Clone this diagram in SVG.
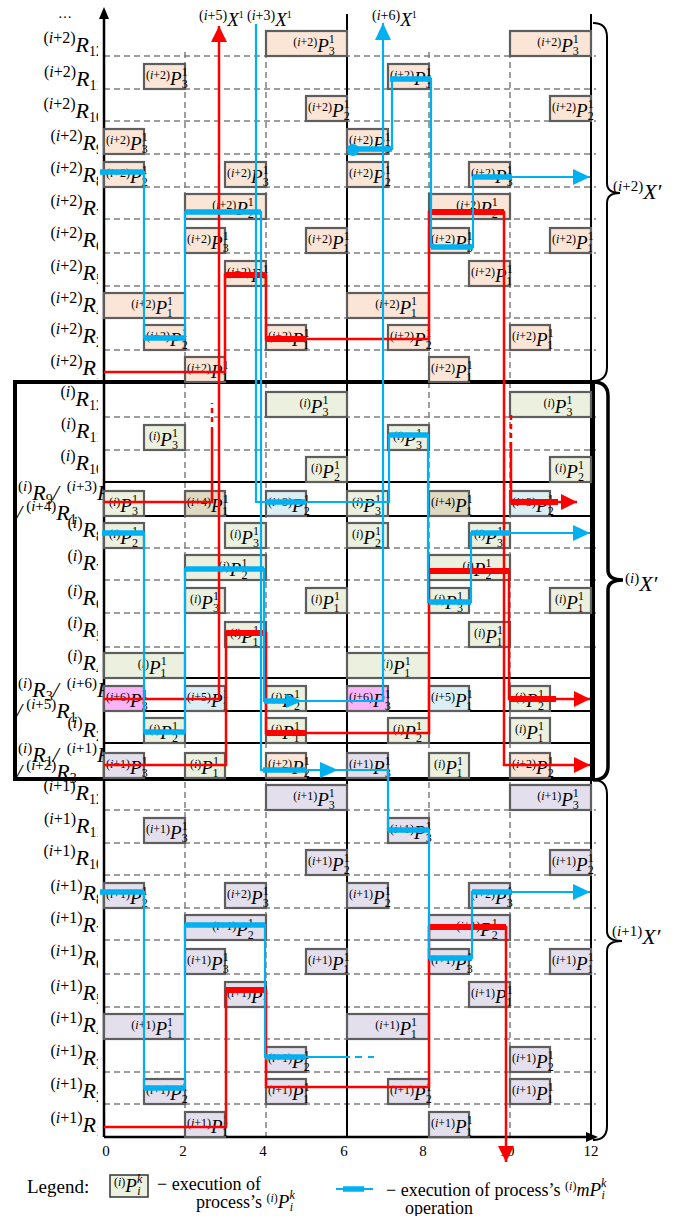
<svg xmlns="http://www.w3.org/2000/svg" width="682" height="1216" viewBox="0 0 682 1216">
<defs>
<style>
.g{stroke:#7f7f7f;stroke-width:1.5;stroke-dasharray:6 4;fill:none}
.b{stroke:#5e5e5e;stroke-width:2.2}
.c2{fill:#fbe5d6}.c0{fill:#ebf1de}.c1{fill:#e4dfec}.c4{fill:#ddd9c3}.cb{fill:#dbeef4}.c6{fill:#f8b6f8}
.t{font-family:"Liberation Serif",serif;fill:#000}
.s{font-size:12px}
.P{font-size:19px;font-style:italic}
.i{font-style:italic}
.m{text-anchor:middle}
.rl{font-family:"Liberation Serif",serif;font-size:16px;text-anchor:end}
.fl{font-family:"Liberation Serif",serif;font-size:15px}
.rR{font-size:22px;font-style:italic}
.rs{font-size:14px}
.rd{stroke:#f00;fill:none;stroke-width:2.5}
.rt{stroke:#f00;stroke-width:6;fill:none}
.bl{stroke:#00b0f0;fill:none;stroke-width:2.2}
.bt{stroke:#00b0f0;stroke-width:5.5;fill:none}
</style>
<marker id="mr" markerUnits="userSpaceOnUse" markerWidth="17" markerHeight="16" refX="16" refY="8" orient="auto"><path d="M0,0 L16,8 L0,16 z" fill="#f00"/></marker>
<marker id="mb" markerUnits="userSpaceOnUse" markerWidth="18" markerHeight="16" refX="17" refY="8" orient="auto"><path d="M0,0 L17,8 L0,16 z" fill="#00b0f0"/></marker>
<clipPath id="lc"><rect x="0" y="0" width="98" height="1216"/></clipPath>
<clipPath id="lc2"><rect x="0" y="0" width="104" height="1216"/></clipPath>
</defs>
<rect width="682" height="1216" fill="#fff"/>

<g id="grid" class="g">
<path d="M104,56H596M104,89H596M104,121H596M104,154H596M104,187H596M104,219H596M104,253H596M104,286H596M104,318H596M104,350H596M104,417H596M104,450H596M104,548H596M104,580H596M104,613H596M104,647H596M104,810H596M104,843H596M104,875H596M104,908H596M104,940H596M104,974H596M104,1007H596M104,1039H596M104,1072H596M104,1104H596"/>
<path d="M185,52V1137M266,52V1137M429,52V1137M510,52V1137"/>
</g>

<g id="frames" fill="none" stroke="#000">
<rect x="104" y="482" width="487" height="34" stroke-width="2"/>
<rect x="104" y="678" width="487" height="33" stroke-width="2"/>
<rect x="104" y="743" width="487" height="36" stroke-width="2"/>
<path d="M347,14V1137M591,14V1137" stroke-width="2"/>
<rect x="15" y="382" width="578" height="397" stroke-width="4"/>
</g>

<g id="axes">
<path d="M104,1137V18" stroke="#000" stroke-width="2.5"/>
<path d="M99,19L104,7L109,19z" fill="#000"/>
<path d="M104,1137H588" stroke="#000" stroke-width="2.5"/>
<path d="M586,1132L598,1137L586,1142z" fill="#000"/>
<g class="t m" font-size="15">
<text x="106" y="1156">0</text><text x="183" y="1156">2</text><text x="263" y="1156">4</text><text x="344" y="1156">6</text><text x="423" y="1156">8</text><text x="507" y="1156">10</text><text x="591" y="1156">12</text>
</g>
<text class="t" x="58" y="18" font-size="14">…</text>
</g>

<g id="nodes">
<!-- (i+2) section -->
<g id="n2-12a"><rect class="b c2" x="266" y="31" width="81" height="25"/><text class="t m" x="314" y="52"><tspan class="s" dy="-6">(<tspan class="i">i</tspan>+2)</tspan><tspan class="P" dy="6">P</tspan><tspan class="s" dy="-9">1</tspan><tspan class="s" dx="-6" dy="12">3</tspan></text></g>
<g id="n2-12b"><rect class="b c2" x="510" y="31" width="81" height="25"/><text class="t m" x="558" y="52"><tspan class="s" dy="-6">(<tspan class="i">i</tspan>+2)</tspan><tspan class="P" dy="6">P</tspan><tspan class="s" dy="-9">1</tspan><tspan class="s" dx="-6" dy="12">3</tspan></text></g>
<g id="n2-11a"><rect class="b c2" x="144" y="64" width="41" height="25"/><text class="t" x="146" y="85"><tspan class="s" dy="-6">(<tspan class="i">i</tspan>+2)</tspan><tspan class="P" dy="6">P</tspan><tspan class="s" dy="-9">1</tspan><tspan class="s" dx="-6" dy="12">3</tspan></text></g>
<g id="n2-11b"><rect class="b c2" x="388" y="64" width="41" height="25"/><text class="t" x="390" y="85"><tspan class="s" dy="-6">(<tspan class="i">i</tspan>+2)</tspan><tspan class="P" dy="6">P</tspan><tspan class="s" dy="-9">1</tspan><tspan class="s" dx="-6" dy="12">3</tspan></text></g>
<g id="n2-10a"><rect class="b c2" x="306" y="96" width="41" height="25"/><text class="t" x="308" y="117"><tspan class="s" dy="-6">(<tspan class="i">i</tspan>+2)</tspan><tspan class="P" dy="6">P</tspan><tspan class="s" dy="-9">1</tspan><tspan class="s" dx="-6" dy="12">2</tspan></text></g>
<g id="n2-10b"><rect class="b c2" x="550" y="96" width="41" height="25"/><text class="t" x="552" y="117"><tspan class="s" dy="-6">(<tspan class="i">i</tspan>+2)</tspan><tspan class="P" dy="6">P</tspan><tspan class="s" dy="-9">1</tspan><tspan class="s" dx="-6" dy="12">2</tspan></text></g>
<g id="n2-9a"><rect class="b c2" x="104" y="129" width="40" height="25"/><text class="t" x="106" y="150"><tspan class="s" dy="-6">(<tspan class="i">i</tspan>+2)</tspan><tspan class="P" dy="6">P</tspan><tspan class="s" dy="-9">1</tspan><tspan class="s" dx="-6" dy="12">3</tspan></text></g>
<g id="n2-9b"><rect class="b c2" x="347" y="129" width="41" height="25"/><text class="t" x="349" y="150"><tspan class="s" dy="-6">(<tspan class="i">i</tspan>+2)</tspan><tspan class="P" dy="6">P</tspan><tspan class="s" dy="-9">1</tspan><tspan class="s" dx="-6" dy="12">3</tspan></text></g>
<g id="n2-8a"><rect class="b c2" x="104" y="162" width="40" height="25"/><text class="t" x="106" y="183"><tspan class="s" dy="-6">(<tspan class="i">i</tspan>+2)</tspan><tspan class="P" dy="6">P</tspan><tspan class="s" dy="-9">1</tspan><tspan class="s" dx="-6" dy="12">2</tspan></text></g>
<g id="n2-8b"><rect class="b c2" x="225" y="162" width="41" height="25"/><text class="t" x="227" y="183"><tspan class="s" dy="-6">(<tspan class="i">i</tspan>+2)</tspan><tspan class="P" dy="6">P</tspan><tspan class="s" dy="-9">1</tspan><tspan class="s" dx="-6" dy="12">3</tspan></text></g>
<g id="n2-8c"><rect class="b c2" x="347" y="162" width="41" height="25"/><text class="t" x="349" y="183"><tspan class="s" dy="-6">(<tspan class="i">i</tspan>+2)</tspan><tspan class="P" dy="6">P</tspan><tspan class="s" dy="-9">1</tspan><tspan class="s" dx="-6" dy="12">2</tspan></text></g>
<g id="n2-8d"><rect class="b c2" x="469" y="162" width="41" height="25"/><text class="t" x="471" y="183"><tspan class="s" dy="-6">(<tspan class="i">i</tspan>+2)</tspan><tspan class="P" dy="6">P</tspan><tspan class="s" dy="-9">1</tspan><tspan class="s" dx="-6" dy="12">3</tspan></text></g>
<g id="n2-7a"><rect class="b c2" x="185" y="194" width="81" height="25"/><text class="t m" x="233" y="215"><tspan class="s" dy="-6">(<tspan class="i">i</tspan>+2)</tspan><tspan class="P" dy="6">P</tspan><tspan class="s" dy="-9">1</tspan><tspan class="s" dx="-6" dy="12">2</tspan></text></g>
<g id="n2-7b"><rect class="b c2" x="429" y="194" width="81" height="25"/><text class="t m" x="477" y="215"><tspan class="s" dy="-6">(<tspan class="i">i</tspan>+2)</tspan><tspan class="P" dy="6">P</tspan><tspan class="s" dy="-9">1</tspan><tspan class="s" dx="-6" dy="12">2</tspan></text></g>
<g id="n2-6a"><rect class="b c2" x="185" y="228" width="40" height="25"/><text class="t" x="187" y="249"><tspan class="s" dy="-6">(<tspan class="i">i</tspan>+2)</tspan><tspan class="P" dy="6">P</tspan><tspan class="s" dy="-9">1</tspan><tspan class="s" dx="-6" dy="12">3</tspan></text></g>
<g id="n2-6b"><rect class="b c2" x="306" y="228" width="41" height="25"/><text class="t" x="308" y="249"><tspan class="s" dy="-6">(<tspan class="i">i</tspan>+2)</tspan><tspan class="P" dy="6">P</tspan><tspan class="s" dy="-9">1</tspan><tspan class="s" dx="-6" dy="12">1</tspan></text></g>
<g id="n2-6c"><rect class="b c2" x="429" y="228" width="40" height="25"/><text class="t" x="431" y="249"><tspan class="s" dy="-6">(<tspan class="i">i</tspan>+2)</tspan><tspan class="P" dy="6">P</tspan><tspan class="s" dy="-9">1</tspan><tspan class="s" dx="-6" dy="12">3</tspan></text></g>
<g id="n2-6d"><rect class="b c2" x="550" y="228" width="41" height="25"/><text class="t" x="552" y="249"><tspan class="s" dy="-6">(<tspan class="i">i</tspan>+2)</tspan><tspan class="P" dy="6">P</tspan><tspan class="s" dy="-9">1</tspan><tspan class="s" dx="-6" dy="12">1</tspan></text></g>
<g id="n2-5a"><rect class="b c2" x="225" y="261" width="41" height="25"/><text class="t" x="227" y="282"><tspan class="s" dy="-6">(<tspan class="i">i</tspan>+2)</tspan><tspan class="P" dy="6">P</tspan><tspan class="s" dy="-9">1</tspan><tspan class="s" dx="-6" dy="12">1</tspan></text></g>
<g id="n2-5b"><rect class="b c2" x="469" y="261" width="41" height="25"/><text class="t" x="471" y="282"><tspan class="s" dy="-6">(<tspan class="i">i</tspan>+2)</tspan><tspan class="P" dy="6">P</tspan><tspan class="s" dy="-9">1</tspan><tspan class="s" dx="-6" dy="12">1</tspan></text></g>
<g id="n2-4a"><rect class="b c2" x="104" y="293" width="81" height="25"/><text class="t m" x="152" y="314"><tspan class="s" dy="-6">(<tspan class="i">i</tspan>+2)</tspan><tspan class="P" dy="6">P</tspan><tspan class="s" dy="-9">1</tspan><tspan class="s" dx="-6" dy="12">1</tspan></text></g>
<g id="n2-4b"><rect class="b c2" x="347" y="293" width="82" height="25"/><text class="t m" x="396" y="314"><tspan class="s" dy="-6">(<tspan class="i">i</tspan>+2)</tspan><tspan class="P" dy="6">P</tspan><tspan class="s" dy="-9">1</tspan><tspan class="s" dx="-6" dy="12">1</tspan></text></g>
<g id="n2-2a"><rect class="b c2" x="144" y="325" width="41" height="25"/><text class="t" x="146" y="346"><tspan class="s" dy="-6">(<tspan class="i">i</tspan>+2)</tspan><tspan class="P" dy="6">P</tspan><tspan class="s" dy="-9">1</tspan><tspan class="s" dx="-6" dy="12">2</tspan></text></g>
<g id="n2-2b"><rect class="b c2" x="266" y="325" width="40" height="25"/><text class="t" x="268" y="346"><tspan class="s" dy="-6">(<tspan class="i">i</tspan>+2)</tspan><tspan class="P" dy="6">P</tspan><tspan class="s" dy="-9">1</tspan><tspan class="s" dx="-6" dy="12">1</tspan></text></g>
<g id="n2-2c"><rect class="b c2" x="388" y="325" width="41" height="25"/><text class="t" x="390" y="346"><tspan class="s" dy="-6">(<tspan class="i">i</tspan>+2)</tspan><tspan class="P" dy="6">P</tspan><tspan class="s" dy="-9">1</tspan><tspan class="s" dx="-6" dy="12">2</tspan></text></g>
<g id="n2-2d"><rect class="b c2" x="510" y="325" width="40" height="25"/><text class="t" x="512" y="346"><tspan class="s" dy="-6">(<tspan class="i">i</tspan>+2)</tspan><tspan class="P" dy="6">P</tspan><tspan class="s" dy="-9">1</tspan><tspan class="s" dx="-6" dy="12">1</tspan></text></g>
<g id="n2-1a"><rect class="b c2" x="185" y="357" width="40" height="25"/><text class="t" x="187" y="378"><tspan class="s" dy="-6">(<tspan class="i">i</tspan>+2)</tspan><tspan class="P" dy="6">P</tspan><tspan class="s" dy="-9">1</tspan><tspan class="s" dx="-6" dy="12">1</tspan></text></g>
<g id="n2-1b"><rect class="b c2" x="429" y="357" width="40" height="25"/><text class="t" x="431" y="378"><tspan class="s" dy="-6">(<tspan class="i">i</tspan>+2)</tspan><tspan class="P" dy="6">P</tspan><tspan class="s" dy="-9">1</tspan><tspan class="s" dx="-6" dy="12">1</tspan></text></g>

<!-- (i) section -->
<g id="n0-12a"><rect class="b c0" x="266" y="392" width="81" height="25"/><text class="t m" x="314" y="413"><tspan class="s" dy="-6">(<tspan class="i">i</tspan>)</tspan><tspan class="P" dy="6">P</tspan><tspan class="s" dy="-9">1</tspan><tspan class="s" dx="-6" dy="12">3</tspan></text></g>
<g id="n0-12b"><rect class="b c0" x="510" y="392" width="81" height="25"/><text class="t m" x="558" y="413"><tspan class="s" dy="-6">(<tspan class="i">i</tspan>)</tspan><tspan class="P" dy="6">P</tspan><tspan class="s" dy="-9">1</tspan><tspan class="s" dx="-6" dy="12">3</tspan></text></g>
<g id="n0-11a"><rect class="b c0" x="144" y="425" width="41" height="25"/><text class="t" x="149" y="446"><tspan class="s" dy="-6">(<tspan class="i">i</tspan>)</tspan><tspan class="P" dy="6">P</tspan><tspan class="s" dy="-9">1</tspan><tspan class="s" dx="-6" dy="12">3</tspan></text></g>
<g id="n0-11b"><rect class="b c0" x="388" y="425" width="41" height="25"/><text class="t" x="393" y="446"><tspan class="s" dy="-6">(<tspan class="i">i</tspan>)</tspan><tspan class="P" dy="6">P</tspan><tspan class="s" dy="-9">1</tspan><tspan class="s" dx="-6" dy="12">3</tspan></text></g>
<g id="n0-10a"><rect class="b c0" x="306" y="457" width="41" height="25"/><text class="t" x="311" y="478"><tspan class="s" dy="-6">(<tspan class="i">i</tspan>)</tspan><tspan class="P" dy="6">P</tspan><tspan class="s" dy="-9">1</tspan><tspan class="s" dx="-6" dy="12">2</tspan></text></g>
<g id="n0-10b"><rect class="b c0" x="550" y="457" width="41" height="25"/><text class="t" x="555" y="478"><tspan class="s" dy="-6">(<tspan class="i">i</tspan>)</tspan><tspan class="P" dy="6">P</tspan><tspan class="s" dy="-9">1</tspan><tspan class="s" dx="-6" dy="12">2</tspan></text></g>
<g id="n0-9a"><rect class="b c0" x="104" y="491" width="40" height="25"/><text class="t" x="109" y="512"><tspan class="s" dy="-6">(<tspan class="i">i</tspan>)</tspan><tspan class="P" dy="6">P</tspan><tspan class="s" dy="-9">1</tspan><tspan class="s" dx="-6" dy="12">3</tspan></text></g>
<g id="n0-9b"><rect class="b c4" x="185" y="491" width="40" height="25"/><text class="t" x="187" y="512"><tspan class="s" dy="-6">(<tspan class="i">i</tspan>+4)</tspan><tspan class="P" dy="6">P</tspan><tspan class="s" dy="-9">1</tspan><tspan class="s" dx="-6" dy="12">1</tspan></text></g>
<g id="n0-9c"><rect class="b cb" x="266" y="491" width="40" height="25"/><text class="t" x="268" y="512"><tspan class="s" dy="-6">(<tspan class="i">i</tspan>+3)</tspan><tspan class="P" dy="6">P</tspan><tspan class="s" dy="-9">1</tspan><tspan class="s" dx="-6" dy="12">2</tspan></text></g>
<g id="n0-9d"><rect class="b c0" x="347" y="491" width="41" height="25"/><text class="t" x="352" y="512"><tspan class="s" dy="-6">(<tspan class="i">i</tspan>)</tspan><tspan class="P" dy="6">P</tspan><tspan class="s" dy="-9">1</tspan><tspan class="s" dx="-6" dy="12">3</tspan></text></g>
<g id="n0-9e"><rect class="b c4" x="429" y="491" width="40" height="25"/><text class="t" x="431" y="512"><tspan class="s" dy="-6">(<tspan class="i">i</tspan>+4)</tspan><tspan class="P" dy="6">P</tspan><tspan class="s" dy="-9">1</tspan><tspan class="s" dx="-6" dy="12">1</tspan></text></g>
<g id="n0-9f"><rect class="b cb" x="510" y="491" width="40" height="25"/><text class="t" x="512" y="512"><tspan class="s" dy="-6">(<tspan class="i">i</tspan>+3)</tspan><tspan class="P" dy="6">P</tspan><tspan class="s" dy="-9">1</tspan><tspan class="s" dx="-6" dy="12">2</tspan></text></g>
<g id="n0-8a"><rect class="b c0" x="104" y="523" width="40" height="25"/><text class="t" x="109" y="544"><tspan class="s" dy="-6">(<tspan class="i">i</tspan>)</tspan><tspan class="P" dy="6">P</tspan><tspan class="s" dy="-9">1</tspan><tspan class="s" dx="-6" dy="12">2</tspan></text></g>
<g id="n0-8b"><rect class="b c0" x="225" y="523" width="41" height="25"/><text class="t" x="230" y="544"><tspan class="s" dy="-6">(<tspan class="i">i</tspan>)</tspan><tspan class="P" dy="6">P</tspan><tspan class="s" dy="-9">1</tspan><tspan class="s" dx="-6" dy="12">3</tspan></text></g>
<g id="n0-8c"><rect class="b c0" x="347" y="523" width="41" height="25"/><text class="t" x="352" y="544"><tspan class="s" dy="-6">(<tspan class="i">i</tspan>)</tspan><tspan class="P" dy="6">P</tspan><tspan class="s" dy="-9">1</tspan><tspan class="s" dx="-6" dy="12">2</tspan></text></g>
<g id="n0-8d"><rect class="b c0" x="469" y="523" width="41" height="25"/><text class="t" x="474" y="544"><tspan class="s" dy="-6">(<tspan class="i">i</tspan>)</tspan><tspan class="P" dy="6">P</tspan><tspan class="s" dy="-9">1</tspan><tspan class="s" dx="-6" dy="12">3</tspan></text></g>
<g id="n0-7a"><rect class="b c0" x="185" y="555" width="81" height="25"/><text class="t m" x="233" y="576"><tspan class="s" dy="-6">(<tspan class="i">i</tspan>)</tspan><tspan class="P" dy="6">P</tspan><tspan class="s" dy="-9">1</tspan><tspan class="s" dx="-6" dy="12">2</tspan></text></g>
<g id="n0-7b"><rect class="b c0" x="429" y="555" width="81" height="25"/><text class="t m" x="477" y="576"><tspan class="s" dy="-6">(<tspan class="i">i</tspan>)</tspan><tspan class="P" dy="6">P</tspan><tspan class="s" dy="-9">1</tspan><tspan class="s" dx="-6" dy="12">2</tspan></text></g>
<g id="n0-6a"><rect class="b c0" x="185" y="588" width="40" height="25"/><text class="t" x="190" y="609"><tspan class="s" dy="-6">(<tspan class="i">i</tspan>)</tspan><tspan class="P" dy="6">P</tspan><tspan class="s" dy="-9">1</tspan><tspan class="s" dx="-6" dy="12">3</tspan></text></g>
<g id="n0-6b"><rect class="b c0" x="306" y="588" width="41" height="25"/><text class="t" x="311" y="609"><tspan class="s" dy="-6">(<tspan class="i">i</tspan>)</tspan><tspan class="P" dy="6">P</tspan><tspan class="s" dy="-9">1</tspan><tspan class="s" dx="-6" dy="12">1</tspan></text></g>
<g id="n0-6c"><rect class="b c0" x="429" y="588" width="40" height="25"/><text class="t" x="434" y="609"><tspan class="s" dy="-6">(<tspan class="i">i</tspan>)</tspan><tspan class="P" dy="6">P</tspan><tspan class="s" dy="-9">1</tspan><tspan class="s" dx="-6" dy="12">3</tspan></text></g>
<g id="n0-6d"><rect class="b c0" x="550" y="588" width="41" height="25"/><text class="t" x="555" y="609"><tspan class="s" dy="-6">(<tspan class="i">i</tspan>)</tspan><tspan class="P" dy="6">P</tspan><tspan class="s" dy="-9">1</tspan><tspan class="s" dx="-6" dy="12">1</tspan></text></g>
<g id="n0-5a"><rect class="b c0" x="225" y="622" width="41" height="25"/><text class="t" x="230" y="643"><tspan class="s" dy="-6">(<tspan class="i">i</tspan>)</tspan><tspan class="P" dy="6">P</tspan><tspan class="s" dy="-9">1</tspan><tspan class="s" dx="-6" dy="12">1</tspan></text></g>
<g id="n0-5b"><rect class="b c0" x="469" y="622" width="41" height="25"/><text class="t" x="474" y="643"><tspan class="s" dy="-6">(<tspan class="i">i</tspan>)</tspan><tspan class="P" dy="6">P</tspan><tspan class="s" dy="-9">1</tspan><tspan class="s" dx="-6" dy="12">1</tspan></text></g>
<g id="n0-4a"><rect class="b c0" x="104" y="653" width="81" height="25"/><text class="t m" x="152" y="674"><tspan class="s" dy="-6">(<tspan class="i">i</tspan>)</tspan><tspan class="P" dy="6">P</tspan><tspan class="s" dy="-9">1</tspan><tspan class="s" dx="-6" dy="12">1</tspan></text></g>
<g id="n0-4b"><rect class="b c0" x="347" y="653" width="82" height="25"/><text class="t m" x="396" y="674"><tspan class="s" dy="-6">(<tspan class="i">i</tspan>)</tspan><tspan class="P" dy="6">P</tspan><tspan class="s" dy="-9">1</tspan><tspan class="s" dx="-6" dy="12">1</tspan></text></g>
<g id="n0-3a"><rect class="b c6" x="104" y="686" width="40" height="25"/><text class="t" x="106" y="707"><tspan class="s" dy="-6">(<tspan class="i">i</tspan>+6)</tspan><tspan class="P" dy="6">P</tspan><tspan class="s" dy="-9">1</tspan><tspan class="s" dx="-6" dy="12">3</tspan></text></g>
<g id="n0-3b"><rect class="b cb" x="185" y="686" width="40" height="25"/><text class="t" x="187" y="707"><tspan class="s" dy="-6">(<tspan class="i">i</tspan>+5)</tspan><tspan class="P" dy="6">P</tspan><tspan class="s" dy="-9">1</tspan><tspan class="s" dx="-6" dy="12">1</tspan></text></g>
<g id="n0-3c"><rect class="b c0" x="266" y="686" width="40" height="25"/><text class="t" x="271" y="707"><tspan class="s" dy="-6">(<tspan class="i">i</tspan>)</tspan><tspan class="P" dy="6">P</tspan><tspan class="s" dy="-9">1</tspan><tspan class="s" dx="-6" dy="12">2</tspan></text></g>
<g id="n0-3d"><rect class="b c6" x="347" y="686" width="41" height="25"/><text class="t" x="349" y="707"><tspan class="s" dy="-6">(<tspan class="i">i</tspan>+6)</tspan><tspan class="P" dy="6">P</tspan><tspan class="s" dy="-9">1</tspan><tspan class="s" dx="-6" dy="12">3</tspan></text></g>
<g id="n0-3e"><rect class="b cb" x="429" y="686" width="40" height="25"/><text class="t" x="431" y="707"><tspan class="s" dy="-6">(<tspan class="i">i</tspan>+5)</tspan><tspan class="P" dy="6">P</tspan><tspan class="s" dy="-9">1</tspan><tspan class="s" dx="-6" dy="12">1</tspan></text></g>
<g id="n0-3f"><rect class="b c0" x="510" y="686" width="40" height="25"/><text class="t" x="515" y="707"><tspan class="s" dy="-6">(<tspan class="i">i</tspan>)</tspan><tspan class="P" dy="6">P</tspan><tspan class="s" dy="-9">1</tspan><tspan class="s" dx="-6" dy="12">2</tspan></text></g>
<g id="n0-2a"><rect class="b c0" x="144" y="718" width="41" height="25"/><text class="t" x="149" y="739"><tspan class="s" dy="-6">(<tspan class="i">i</tspan>)</tspan><tspan class="P" dy="6">P</tspan><tspan class="s" dy="-9">1</tspan><tspan class="s" dx="-6" dy="12">2</tspan></text></g>
<g id="n0-2b"><rect class="b c0" x="266" y="718" width="40" height="25"/><text class="t" x="271" y="739"><tspan class="s" dy="-6">(<tspan class="i">i</tspan>)</tspan><tspan class="P" dy="6">P</tspan><tspan class="s" dy="-9">1</tspan><tspan class="s" dx="-6" dy="12">1</tspan></text></g>
<g id="n0-2c"><rect class="b c0" x="388" y="718" width="41" height="25"/><text class="t" x="393" y="739"><tspan class="s" dy="-6">(<tspan class="i">i</tspan>)</tspan><tspan class="P" dy="6">P</tspan><tspan class="s" dy="-9">1</tspan><tspan class="s" dx="-6" dy="12">2</tspan></text></g>
<g id="n0-2d"><rect class="b c0" x="510" y="718" width="40" height="25"/><text class="t" x="515" y="739"><tspan class="s" dy="-6">(<tspan class="i">i</tspan>)</tspan><tspan class="P" dy="6">P</tspan><tspan class="s" dy="-9">1</tspan><tspan class="s" dx="-6" dy="12">1</tspan></text></g>
<g id="n0-1a"><rect class="b c1" x="104" y="753" width="40" height="25"/><text class="t" x="106" y="774"><tspan class="s" dy="-6">(<tspan class="i">i</tspan>+1)</tspan><tspan class="P" dy="6">P</tspan><tspan class="s" dy="-9">1</tspan><tspan class="s" dx="-6" dy="12">3</tspan></text></g>
<g id="n0-1b"><rect class="b c0" x="185" y="753" width="40" height="25"/><text class="t" x="190" y="774"><tspan class="s" dy="-6">(<tspan class="i">i</tspan>)</tspan><tspan class="P" dy="6">P</tspan><tspan class="s" dy="-9">1</tspan><tspan class="s" dx="-6" dy="12">1</tspan></text></g>
<g id="n0-1c"><rect class="b c2" x="266" y="753" width="40" height="25"/><text class="t" x="268" y="774"><tspan class="s" dy="-6">(<tspan class="i">i</tspan>+2)</tspan><tspan class="P" dy="6">P</tspan><tspan class="s" dy="-9">1</tspan><tspan class="s" dx="-6" dy="12">2</tspan></text></g>
<g id="n0-1d"><rect class="b c1" x="347" y="753" width="41" height="25"/><text class="t" x="349" y="774"><tspan class="s" dy="-6">(<tspan class="i">i</tspan>+1)</tspan><tspan class="P" dy="6">P</tspan><tspan class="s" dy="-9">1</tspan><tspan class="s" dx="-6" dy="12">3</tspan></text></g>
<g id="n0-1e"><rect class="b c0" x="429" y="753" width="40" height="25"/><text class="t" x="434" y="774"><tspan class="s" dy="-6">(<tspan class="i">i</tspan>)</tspan><tspan class="P" dy="6">P</tspan><tspan class="s" dy="-9">1</tspan><tspan class="s" dx="-6" dy="12">1</tspan></text></g>
<g id="n0-1f"><rect class="b c2" x="510" y="753" width="40" height="25"/><text class="t" x="512" y="774"><tspan class="s" dy="-6">(<tspan class="i">i</tspan>+2)</tspan><tspan class="P" dy="6">P</tspan><tspan class="s" dy="-9">1</tspan><tspan class="s" dx="-6" dy="12">2</tspan></text></g>

<!-- (i+1) section -->
<g id="n1-12a"><rect class="b c1" x="266" y="785" width="81" height="25"/><text class="t m" x="314" y="806"><tspan class="s" dy="-6">(<tspan class="i">i</tspan>+1)</tspan><tspan class="P" dy="6">P</tspan><tspan class="s" dy="-9">1</tspan><tspan class="s" dx="-6" dy="12">3</tspan></text></g>
<g id="n1-12b"><rect class="b c1" x="510" y="785" width="81" height="25"/><text class="t m" x="558" y="806"><tspan class="s" dy="-6">(<tspan class="i">i</tspan>+1)</tspan><tspan class="P" dy="6">P</tspan><tspan class="s" dy="-9">1</tspan><tspan class="s" dx="-6" dy="12">3</tspan></text></g>
<g id="n1-11a"><rect class="b c1" x="144" y="818" width="41" height="25"/><text class="t" x="146" y="839"><tspan class="s" dy="-6">(<tspan class="i">i</tspan>+1)</tspan><tspan class="P" dy="6">P</tspan><tspan class="s" dy="-9">1</tspan><tspan class="s" dx="-6" dy="12">3</tspan></text></g>
<g id="n1-11b"><rect class="b c1" x="388" y="818" width="41" height="25"/><text class="t" x="390" y="839"><tspan class="s" dy="-6">(<tspan class="i">i</tspan>+1)</tspan><tspan class="P" dy="6">P</tspan><tspan class="s" dy="-9">1</tspan><tspan class="s" dx="-6" dy="12">3</tspan></text></g>
<g id="n1-10a"><rect class="b c1" x="306" y="850" width="41" height="25"/><text class="t" x="308" y="871"><tspan class="s" dy="-6">(<tspan class="i">i</tspan>+1)</tspan><tspan class="P" dy="6">P</tspan><tspan class="s" dy="-9">1</tspan><tspan class="s" dx="-6" dy="12">2</tspan></text></g>
<g id="n1-10b"><rect class="b c1" x="550" y="850" width="41" height="25"/><text class="t" x="552" y="871"><tspan class="s" dy="-6">(<tspan class="i">i</tspan>+1)</tspan><tspan class="P" dy="6">P</tspan><tspan class="s" dy="-9">1</tspan><tspan class="s" dx="-6" dy="12">2</tspan></text></g>
<g id="n1-8a"><rect class="b c1" x="104" y="883" width="40" height="25"/><text class="t" x="106" y="904"><tspan class="s" dy="-6">(<tspan class="i">i</tspan>+1)</tspan><tspan class="P" dy="6">P</tspan><tspan class="s" dy="-9">1</tspan><tspan class="s" dx="-6" dy="12">2</tspan></text></g>
<g id="n1-8b"><rect class="b c1" x="225" y="883" width="41" height="25"/><text class="t" x="227" y="904"><tspan class="s" dy="-6">(<tspan class="i">i</tspan>+2)</tspan><tspan class="P" dy="6">P</tspan><tspan class="s" dy="-9">1</tspan><tspan class="s" dx="-6" dy="12">3</tspan></text></g>
<g id="n1-8c"><rect class="b c1" x="347" y="883" width="41" height="25"/><text class="t" x="349" y="904"><tspan class="s" dy="-6">(<tspan class="i">i</tspan>+1)</tspan><tspan class="P" dy="6">P</tspan><tspan class="s" dy="-9">1</tspan><tspan class="s" dx="-6" dy="12">2</tspan></text></g>
<g id="n1-8d"><rect class="b c1" x="469" y="883" width="41" height="25"/><text class="t" x="471" y="904"><tspan class="s" dy="-6">(<tspan class="i">i</tspan>+2)</tspan><tspan class="P" dy="6">P</tspan><tspan class="s" dy="-9">1</tspan><tspan class="s" dx="-6" dy="12">3</tspan></text></g>
<g id="n1-7a"><rect class="b c1" x="185" y="915" width="81" height="25"/><text class="t m" x="233" y="936"><tspan class="s" dy="-6">(<tspan class="i">i</tspan>+1)</tspan><tspan class="P" dy="6">P</tspan><tspan class="s" dy="-9">1</tspan><tspan class="s" dx="-6" dy="12">2</tspan></text></g>
<g id="n1-7b"><rect class="b c1" x="429" y="915" width="81" height="25"/><text class="t m" x="477" y="936"><tspan class="s" dy="-6">(<tspan class="i">i</tspan>+1)</tspan><tspan class="P" dy="6">P</tspan><tspan class="s" dy="-9">1</tspan><tspan class="s" dx="-6" dy="12">2</tspan></text></g>
<g id="n1-6a"><rect class="b c1" x="185" y="949" width="40" height="25"/><text class="t" x="187" y="970"><tspan class="s" dy="-6">(<tspan class="i">i</tspan>+1)</tspan><tspan class="P" dy="6">P</tspan><tspan class="s" dy="-9">1</tspan><tspan class="s" dx="-6" dy="12">3</tspan></text></g>
<g id="n1-6b"><rect class="b c1" x="306" y="949" width="41" height="25"/><text class="t" x="308" y="970"><tspan class="s" dy="-6">(<tspan class="i">i</tspan>+1)</tspan><tspan class="P" dy="6">P</tspan><tspan class="s" dy="-9">1</tspan><tspan class="s" dx="-6" dy="12">1</tspan></text></g>
<g id="n1-6c"><rect class="b c1" x="429" y="949" width="40" height="25"/><text class="t" x="431" y="970"><tspan class="s" dy="-6">(<tspan class="i">i</tspan>+1)</tspan><tspan class="P" dy="6">P</tspan><tspan class="s" dy="-9">1</tspan><tspan class="s" dx="-6" dy="12">3</tspan></text></g>
<g id="n1-6d"><rect class="b c1" x="550" y="949" width="41" height="25"/><text class="t" x="552" y="970"><tspan class="s" dy="-6">(<tspan class="i">i</tspan>+1)</tspan><tspan class="P" dy="6">P</tspan><tspan class="s" dy="-9">1</tspan><tspan class="s" dx="-6" dy="12">1</tspan></text></g>
<g id="n1-5a"><rect class="b c1" x="225" y="982" width="41" height="25"/><text class="t" x="227" y="1003"><tspan class="s" dy="-6">(<tspan class="i">i</tspan>+1)</tspan><tspan class="P" dy="6">P</tspan><tspan class="s" dy="-9">1</tspan><tspan class="s" dx="-6" dy="12">1</tspan></text></g>
<g id="n1-5b"><rect class="b c1" x="469" y="982" width="41" height="25"/><text class="t" x="471" y="1003"><tspan class="s" dy="-6">(<tspan class="i">i</tspan>+1)</tspan><tspan class="P" dy="6">P</tspan><tspan class="s" dy="-9">1</tspan><tspan class="s" dx="-6" dy="12">1</tspan></text></g>
<g id="n1-4a"><rect class="b c1" x="104" y="1014" width="81" height="25"/><text class="t m" x="152" y="1035"><tspan class="s" dy="-6">(<tspan class="i">i</tspan>+1)</tspan><tspan class="P" dy="6">P</tspan><tspan class="s" dy="-9">1</tspan><tspan class="s" dx="-6" dy="12">1</tspan></text></g>
<g id="n1-4b"><rect class="b c1" x="347" y="1014" width="82" height="25"/><text class="t m" x="396" y="1035"><tspan class="s" dy="-6">(<tspan class="i">i</tspan>+1)</tspan><tspan class="P" dy="6">P</tspan><tspan class="s" dy="-9">1</tspan><tspan class="s" dx="-6" dy="12">1</tspan></text></g>
<g id="n1-3a"><rect class="b c1" x="266" y="1047" width="40" height="25"/><text class="t" x="268" y="1068"><tspan class="s" dy="-6">(<tspan class="i">i</tspan>+1)</tspan><tspan class="P" dy="6">P</tspan><tspan class="s" dy="-9">1</tspan><tspan class="s" dx="-6" dy="12">2</tspan></text></g>
<g id="n1-3b"><rect class="b c1" x="510" y="1047" width="40" height="25"/><text class="t" x="512" y="1068"><tspan class="s" dy="-6">(<tspan class="i">i</tspan>+1)</tspan><tspan class="P" dy="6">P</tspan><tspan class="s" dy="-9">1</tspan><tspan class="s" dx="-6" dy="12">2</tspan></text></g>
<g id="n1-2a"><rect class="b c1" x="144" y="1079" width="41" height="25"/><text class="t" x="146" y="1100"><tspan class="s" dy="-6">(<tspan class="i">i</tspan>+1)</tspan><tspan class="P" dy="6">P</tspan><tspan class="s" dy="-9">1</tspan><tspan class="s" dx="-6" dy="12">2</tspan></text></g>
<g id="n1-2b"><rect class="b c1" x="266" y="1079" width="40" height="25"/><text class="t" x="268" y="1100"><tspan class="s" dy="-6">(<tspan class="i">i</tspan>+1)</tspan><tspan class="P" dy="6">P</tspan><tspan class="s" dy="-9">1</tspan><tspan class="s" dx="-6" dy="12">1</tspan></text></g>
<g id="n1-2c"><rect class="b c1" x="388" y="1079" width="41" height="25"/><text class="t" x="390" y="1100"><tspan class="s" dy="-6">(<tspan class="i">i</tspan>+1)</tspan><tspan class="P" dy="6">P</tspan><tspan class="s" dy="-9">1</tspan><tspan class="s" dx="-6" dy="12">2</tspan></text></g>
<g id="n1-2d"><rect class="b c1" x="510" y="1079" width="40" height="25"/><text class="t" x="512" y="1100"><tspan class="s" dy="-6">(<tspan class="i">i</tspan>+1)</tspan><tspan class="P" dy="6">P</tspan><tspan class="s" dy="-9">1</tspan><tspan class="s" dx="-6" dy="12">1</tspan></text></g>
<g id="n1-1a"><rect class="b c1" x="185" y="1112" width="40" height="25"/><text class="t" x="187" y="1133"><tspan class="s" dy="-6">(<tspan class="i">i</tspan>+1)</tspan><tspan class="P" dy="6">P</tspan><tspan class="s" dy="-9">1</tspan><tspan class="s" dx="-6" dy="12">1</tspan></text></g>
<g id="n1-1b"><rect class="b c1" x="429" y="1112" width="40" height="25"/><text class="t" x="431" y="1133"><tspan class="s" dy="-6">(<tspan class="i">i</tspan>+1)</tspan><tspan class="P" dy="6">P</tspan><tspan class="s" dy="-9">1</tspan><tspan class="s" dx="-6" dy="12">1</tspan></text></g>
</g>

<g id="connectors">
<g id="red">
<path class="rd" d="M104,372H225V275H266V339H429V212H504V765H590" marker-end="url(#mr)"/>
<path class="rd" d="M104,765H226V633H266V733H429V571H509V699H590" marker-end="url(#mr)"/>
<path class="rd" d="M104,1127H226V990H266V1087H429V927H506V1162" marker-end="url(#mr)"/>
<path class="rd" d="M104,699H219V26" marker-end="url(#mr)"/>
<path class="rd" d="M104,502H212V427"/>
<path class="rd" d="M212,422V403" stroke-dasharray="5 4"/>
<path class="rd" d="M511,415V447" stroke-dasharray="5 4"/>
<path class="rd" d="M511,447V502H577" marker-end="url(#mr)"/>
<path class="rt" d="M225,275H266M266,339H306M429,212H504M226,633H266M266,733H306M429,571H509M509,699H556M226,990H266M429,927H506M511,502H558"/>
</g>
<g id="blue">
<path class="bl" d="M100,172H144V338H185V212H261V770H388V830H429V958H472V892H590" marker-end="url(#mb)"/>
<path class="bl" d="M102,533H144V732H185V569H264V701H383V23" marker-end="url(#mb)"/>
<path class="bl" d="M256,24V502H389V435H428V602H471V533H590" marker-end="url(#mb)"/>
<path class="bl" d="M350,149H392V79H431V247H473V177H590" marker-end="url(#mb)"/>
<path class="bl" d="M100,892H144V1088H185V925H265V1057H350M355,1057H362M368,1057H374"/>
<circle cx="353" cy="150" r="6" fill="#00b0f0"/>
<path fill="#00b0f0" d="M320,762L338,770L320,778zM286,694L302,701L286,708z"/>
<path class="bt" d="M100,172H144M144,338H185M185,212H261M263,770H306M388,830H429M429,958H472M472,892H512M102,533H144M144,732H185M185,569H264M264,701H290M266,502H306M389,435H428M429,602H471M471,533H510M348,149H392M390,79H431M431,247H473M473,177H512M100,892H144M144,1088H185M185,925H265M265,1057H306"/>
</g>
</g>

<g id="toplabels" class="t">
<text x="199" y="26"><tspan font-size="14" dy="-6">(<tspan class="i">i</tspan>+5)</tspan><tspan class="i" font-size="19" dy="6">X</tspan><tspan font-size="10" dy="-8">1</tspan></text>
<text x="247" y="26"><tspan font-size="14" dy="-6">(<tspan class="i">i</tspan>+3)</tspan><tspan class="i" font-size="19" dy="6">X</tspan><tspan font-size="10" dy="-8">1</tspan></text>
<text x="372" y="26"><tspan font-size="14" dy="-6">(<tspan class="i">i</tspan>+6)</tspan><tspan class="i" font-size="19" dy="6">X</tspan><tspan font-size="10" dy="-8">1</tspan></text>
</g>

<g id="rowlabels" clip-path="url(#lc)">
<text class="rl" x="103" y="52"><tspan dy="-9">(<tspan class="i">i</tspan>+2)</tspan><tspan class="rR" dy="9">R</tspan><tspan class="rs" dy="4">12</tspan></text>
<text class="rl" x="103" y="86"><tspan dy="-9">(<tspan class="i">i</tspan>+2)</tspan><tspan class="rR" dy="9">R</tspan><tspan class="rs" dy="4">11</tspan></text>
<text class="rl" x="103" y="118"><tspan dy="-9">(<tspan class="i">i</tspan>+2)</tspan><tspan class="rR" dy="9">R</tspan><tspan class="rs" dy="4">10</tspan></text>
<text class="rl" x="103" y="150"><tspan dy="-9">(<tspan class="i">i</tspan>+2)</tspan><tspan class="rR" dy="9">R</tspan><tspan class="rs" dy="4">9</tspan></text>
<text class="rl" x="103" y="182"><tspan dy="-9">(<tspan class="i">i</tspan>+2)</tspan><tspan class="rR" dy="9">R</tspan><tspan class="rs" dy="4">8</tspan></text>
<text class="rl" x="103" y="215"><tspan dy="-9">(<tspan class="i">i</tspan>+2)</tspan><tspan class="rR" dy="9">R</tspan><tspan class="rs" dy="4">7</tspan></text>
<text class="rl" x="103" y="247"><tspan dy="-9">(<tspan class="i">i</tspan>+2)</tspan><tspan class="rR" dy="9">R</tspan><tspan class="rs" dy="4">6</tspan></text>
<text class="rl" x="103" y="280"><tspan dy="-9">(<tspan class="i">i</tspan>+2)</tspan><tspan class="rR" dy="9">R</tspan><tspan class="rs" dy="4">5</tspan></text>
<text class="rl" x="103" y="312"><tspan dy="-9">(<tspan class="i">i</tspan>+2)</tspan><tspan class="rR" dy="9">R</tspan><tspan class="rs" dy="4">4</tspan></text>
<text class="rl" x="103" y="343"><tspan dy="-9">(<tspan class="i">i</tspan>+2)</tspan><tspan class="rR" dy="9">R</tspan><tspan class="rs" dy="4">2</tspan></text>
<text class="rl" x="103" y="375"><tspan dy="-9">(<tspan class="i">i</tspan>+2)</tspan><tspan class="rR" dy="9">R</tspan><tspan class="rs" dy="4">1</tspan></text>
<text class="rl" x="103" y="406"><tspan dy="-9">(<tspan class="i">i</tspan>)</tspan><tspan class="rR" dy="9">R</tspan><tspan class="rs" dy="4">12</tspan></text>
<text class="rl" x="103" y="438"><tspan dy="-9">(<tspan class="i">i</tspan>)</tspan><tspan class="rR" dy="9">R</tspan><tspan class="rs" dy="4">11</tspan></text>
<text class="rl" x="103" y="470"><tspan dy="-9">(<tspan class="i">i</tspan>)</tspan><tspan class="rR" dy="9">R</tspan><tspan class="rs" dy="4">10</tspan></text>
<text class="rl" x="103" y="537"><tspan dy="-9">(<tspan class="i">i</tspan>)</tspan><tspan class="rR" dy="9">R</tspan><tspan class="rs" dy="4">8</tspan></text>
<text class="rl" x="103" y="570"><tspan dy="-9">(<tspan class="i">i</tspan>)</tspan><tspan class="rR" dy="9">R</tspan><tspan class="rs" dy="4">7</tspan></text>
<text class="rl" x="103" y="605"><tspan dy="-9">(<tspan class="i">i</tspan>)</tspan><tspan class="rR" dy="9">R</tspan><tspan class="rs" dy="4">6</tspan></text>
<text class="rl" x="103" y="637"><tspan dy="-9">(<tspan class="i">i</tspan>)</tspan><tspan class="rR" dy="9">R</tspan><tspan class="rs" dy="4">5</tspan></text>
<text class="rl" x="103" y="670"><tspan dy="-9">(<tspan class="i">i</tspan>)</tspan><tspan class="rR" dy="9">R</tspan><tspan class="rs" dy="4">4</tspan></text>
<text class="rl" x="103" y="737"><tspan dy="-9">(<tspan class="i">i</tspan>)</tspan><tspan class="rR" dy="9">R</tspan><tspan class="rs" dy="4">2</tspan></text>
<text class="rl" x="103" y="800"><tspan dy="-9">(<tspan class="i">i</tspan>+1)</tspan><tspan class="rR" dy="9">R</tspan><tspan class="rs" dy="4">12</tspan></text>
<text class="rl" x="103" y="833"><tspan dy="-9">(<tspan class="i">i</tspan>+1)</tspan><tspan class="rR" dy="9">R</tspan><tspan class="rs" dy="4">11</tspan></text>
<text class="rl" x="103" y="865"><tspan dy="-9">(<tspan class="i">i</tspan>+1)</tspan><tspan class="rR" dy="9">R</tspan><tspan class="rs" dy="4">10</tspan></text>
<text class="rl" x="103" y="900"><tspan dy="-9">(<tspan class="i">i</tspan>+1)</tspan><tspan class="rR" dy="9">R</tspan><tspan class="rs" dy="4">8</tspan></text>
<text class="rl" x="103" y="932"><tspan dy="-9">(<tspan class="i">i</tspan>+1)</tspan><tspan class="rR" dy="9">R</tspan><tspan class="rs" dy="4">7</tspan></text>
<text class="rl" x="103" y="965"><tspan dy="-9">(<tspan class="i">i</tspan>+1)</tspan><tspan class="rR" dy="9">R</tspan><tspan class="rs" dy="4">6</tspan></text>
<text class="rl" x="103" y="1000"><tspan dy="-9">(<tspan class="i">i</tspan>+1)</tspan><tspan class="rR" dy="9">R</tspan><tspan class="rs" dy="4">5</tspan></text>
<text class="rl" x="103" y="1032"><tspan dy="-9">(<tspan class="i">i</tspan>+1)</tspan><tspan class="rR" dy="9">R</tspan><tspan class="rs" dy="4">4</tspan></text>
<text class="rl" x="103" y="1065"><tspan dy="-9">(<tspan class="i">i</tspan>+1)</tspan><tspan class="rR" dy="9">R</tspan><tspan class="rs" dy="4">3</tspan></text>
<text class="rl" x="103" y="1098"><tspan dy="-9">(<tspan class="i">i</tspan>+1)</tspan><tspan class="rR" dy="9">R</tspan><tspan class="rs" dy="4">2</tspan></text>
<text class="rl" x="103" y="1132"><tspan dy="-9">(<tspan class="i">i</tspan>+1)</tspan><tspan class="rR" dy="9">R</tspan><tspan class="rs" dy="4">1</tspan></text>
</g>

<g id="framelabels" clip-path="url(#lc2)">
<text class="fl" x="18" y="500"><tspan dy="-9">(<tspan class="i">i</tspan>)</tspan><tspan class="rR" dy="9">R</tspan><tspan class="rs" dy="4">9</tspan><tspan class="rR" dy="-4">/</tspan><tspan dx="8" dy="-9">(<tspan class="i">i</tspan>+3)</tspan><tspan class="rR" dy="9">R</tspan><tspan class="rs" dy="4">3</tspan></text>
<text class="fl" x="16" y="520"><tspan class="rR">/</tspan><tspan dx="4" dy="-9">(<tspan class="i">i</tspan>+4)</tspan><tspan class="rR" dy="9">R</tspan><tspan class="rs" dy="4">1</tspan></text>
<text class="fl" x="18" y="697"><tspan dy="-9">(<tspan class="i">i</tspan>)</tspan><tspan class="rR" dy="9">R</tspan><tspan class="rs" dy="4">3</tspan><tspan class="rR" dy="-4">/</tspan><tspan dx="8" dy="-9">(<tspan class="i">i</tspan>+6)</tspan><tspan class="rR" dy="9">R</tspan><tspan class="rs" dy="4">9</tspan></text>
<text class="fl" x="16" y="718"><tspan class="rR">/</tspan><tspan dx="4" dy="-9">(<tspan class="i">i</tspan>+5)</tspan><tspan class="rR" dy="9">R</tspan><tspan class="rs" dy="4">1</tspan></text>
<text class="fl" x="18" y="762"><tspan dy="-9">(<tspan class="i">i</tspan>)</tspan><tspan class="rR" dy="9">R</tspan><tspan class="rs" dy="4">1</tspan><tspan class="rR" dy="-4">/</tspan><tspan dx="8" dy="-9">(<tspan class="i">i</tspan>+1)</tspan><tspan class="rR" dy="9">R</tspan><tspan class="rs" dy="4">9</tspan></text>
<text class="fl" x="16" y="779"><tspan class="rR">/</tspan><tspan dx="4" dy="-9">(<tspan class="i">i</tspan>+2)</tspan><tspan class="rR" dy="9">R</tspan><tspan class="rs" dy="4">3</tspan></text>
</g>

<g id="braces" fill="none" stroke="#000">
<path d="M593,23Q607,23 607,37V183Q607,193 620,193Q607,193 607,203V367Q607,381 593,381" stroke-width="2"/>
<path d="M593,382Q608,382 608,396V570Q608,580 623,580Q608,580 608,590V766Q608,780 593,780" stroke-width="3.5"/>
<path d="M593,780Q607,780 607,794V931Q607,941 622,941Q607,941 607,951V1126Q607,1140 593,1140" stroke-width="2"/>
</g>
<g id="bracelabels" class="t">
<text x="613" y="199"><tspan font-size="15" dy="-8">(<tspan class="i">i</tspan>+2)</tspan><tspan class="i" font-size="22" dy="8">X′</tspan></text>
<text x="625" y="591"><tspan font-size="15" dy="-8">(<tspan class="i">i</tspan>)</tspan><tspan class="i" font-size="22" dy="8">X′</tspan></text>
<text x="612" y="944"><tspan font-size="15" dy="-8">(<tspan class="i">i</tspan>+1)</tspan><tspan class="i" font-size="22" dy="8">X′</tspan></text>
</g>

<g id="legend">
<text class="t" x="27" y="1193" font-size="19">Legend:</text>
<rect x="110" y="1175" width="38" height="22" fill="#ebf1de" stroke="#333" stroke-width="1.5"/>
<text class="t" x="114" y="1192"><tspan class="s" dy="-6">(<tspan class="i">i</tspan>)</tspan><tspan class="P" dy="6">P</tspan><tspan class="s i" dy="-9">k</tspan><tspan class="s i" dx="-5" dy="12">i</tspan></text>
<text class="t" x="157" y="1190" font-size="18">− execution of</text>
<text class="t" x="196" y="1208" font-size="18">process’s <tspan class="s" dy="-6">(<tspan class="i">i</tspan>)</tspan><tspan class="P" dy="6">P</tspan><tspan class="s i" dy="-9">k</tspan><tspan class="s i" dx="-5" dy="12">i</tspan></text>
<path d="M336,1189H373" stroke="#00b0f0" stroke-width="2"/>
<path d="M343,1189H364" stroke="#00b0f0" stroke-width="5.5"/>
<text class="t" x="386" y="1196" font-size="18">− execution of process’s <tspan class="s" dy="-6">(<tspan class="i">i</tspan>)</tspan><tspan class="i" dy="6">m</tspan><tspan class="P">P</tspan><tspan class="s i" dy="-9">k</tspan><tspan class="s i" dx="-5" dy="12">i</tspan></text>
<text class="t" x="405" y="1214" font-size="18">operation</text>
</g>
</svg>
